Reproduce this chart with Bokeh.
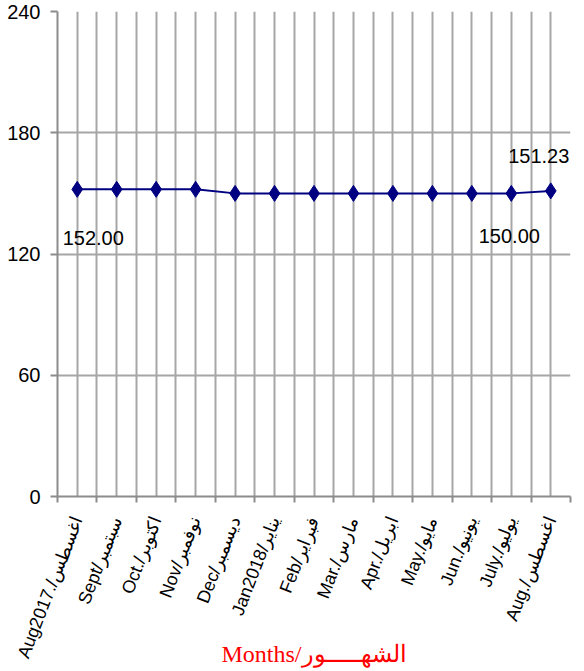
from bokeh.plotting import figure
from bokeh.models import FixedTicker, Range1d, ColumnDataSource
from bokeh.embed import file_html
from bokeh.resources import INLINE
from bokeh.core.properties import value

months = ["Aug2017./اغسطس", "Sept/سبتمبر", "Oct./اكتوبر", "Nov/نوفمبر", "Dec/ديسمبر",
          "Jan2018/يناير", "Feb/فبراير", "Mar./مارس", "Apr./ابريل", "May./مايو",
          "Jun./يونيو", "July./يوليو", "Aug./اغسطس"]
values = [152.00, 152.00, 152.00, 152.00, 150.00, 150.00, 150.00, 150.00,
          150.00, 150.00, 150.00, 150.00, 151.23]
y_ticks = [0, 60, 120, 180, 240]
labelled = [0, 11, 12]
axis_title = "Months/الشهـــــور"

n = len(months)
centers = [i + 0.5 for i in range(n)]
bounds = [float(i) for i in range(n + 1)]

p = figure(frame_width=513, frame_height=485,
           x_range=Range1d(0, n), y_range=Range1d(0, 240),
           output_backend="svg", toolbar_location=None,
           min_border_left=57, min_border_top=11, min_border_right=12,
           min_border_bottom=0)
p.outline_line_color = None
p.background_fill_color = "white"

grid_gray = "#a6a6a6"
axis_gray = "#8c8c8c"

# x axis
xt = FixedTicker(ticks=centers, minor_ticks=bounds)
p.xaxis.ticker = xt
p.xaxis.major_label_overrides = {c: m for c, m in zip(centers, months)}
p.xaxis.major_tick_in = 0
p.xaxis.major_tick_out = 0
p.xaxis.minor_tick_in = 0
p.xaxis.minor_tick_out = 6
p.xaxis.minor_tick_line_color = axis_gray
p.xaxis.minor_tick_line_width = 2
p.xaxis.axis_line_color = axis_gray
p.xaxis.axis_line_width = 2
p.xaxis.major_label_orientation = 1.2
p.xaxis.major_label_text_font = "Liberation Sans"
p.xaxis.major_label_text_font_size = "18px"
p.xaxis.major_label_text_color = "black"
p.xaxis.major_label_standoff = 15
p.xaxis.axis_label = axis_title
p.xaxis.axis_label_text_font = "Liberation Serif"
p.xaxis.axis_label_text_font_style = "normal"
p.xaxis.axis_label_text_font_size = "24px"
p.xaxis.axis_label_text_color = "red"
p.xaxis.axis_label_standoff = -27

# y axis
p.yaxis.ticker = FixedTicker(ticks=y_ticks)
p.yaxis.major_tick_in = 0
p.yaxis.major_tick_out = 7
p.yaxis.minor_tick_line_color = None
p.yaxis.major_tick_line_color = axis_gray
p.yaxis.major_tick_line_width = 2
p.yaxis.axis_line_color = axis_gray
p.yaxis.axis_line_width = 2
p.yaxis.major_label_text_font = "Liberation Sans"
p.yaxis.major_label_text_font_size = "20px"
p.yaxis.major_label_text_color = "black"
p.yaxis.major_label_standoff = 10

# grids
p.xgrid.ticker = xt
p.xgrid.grid_line_color = grid_gray
p.xgrid.grid_line_width = 2
p.xgrid.minor_grid_line_color = grid_gray
p.xgrid.minor_grid_line_width = 2
p.ygrid.ticker = FixedTicker(ticks=y_ticks)
p.ygrid.grid_line_color = grid_gray
p.ygrid.grid_line_width = 2

src = ColumnDataSource(dict(x=centers, y=values))
p.line("x", "y", source=src, line_color="#000080", line_width=2)
p.scatter("x", "y", source=src, marker="diamond", size=16,
          fill_color="#000080", line_color="#000080")

lab = ColumnDataSource(dict(
    x=[centers[i] for i in labelled],
    y=[values[i] for i in labelled],
    t=["%.2f" % values[i] for i in labelled],
    xo=[16, -2, -12],
    yo=[49, 43, -35],
))
p.text("x", "y", text="t", source=lab, x_offset="xo", y_offset="yo",
       text_align="center", text_baseline="middle",
       text_font=value("Liberation Sans"), text_font_size="20px",
       text_color="black")

open("out.html", "w").write(file_html(p, INLINE))
